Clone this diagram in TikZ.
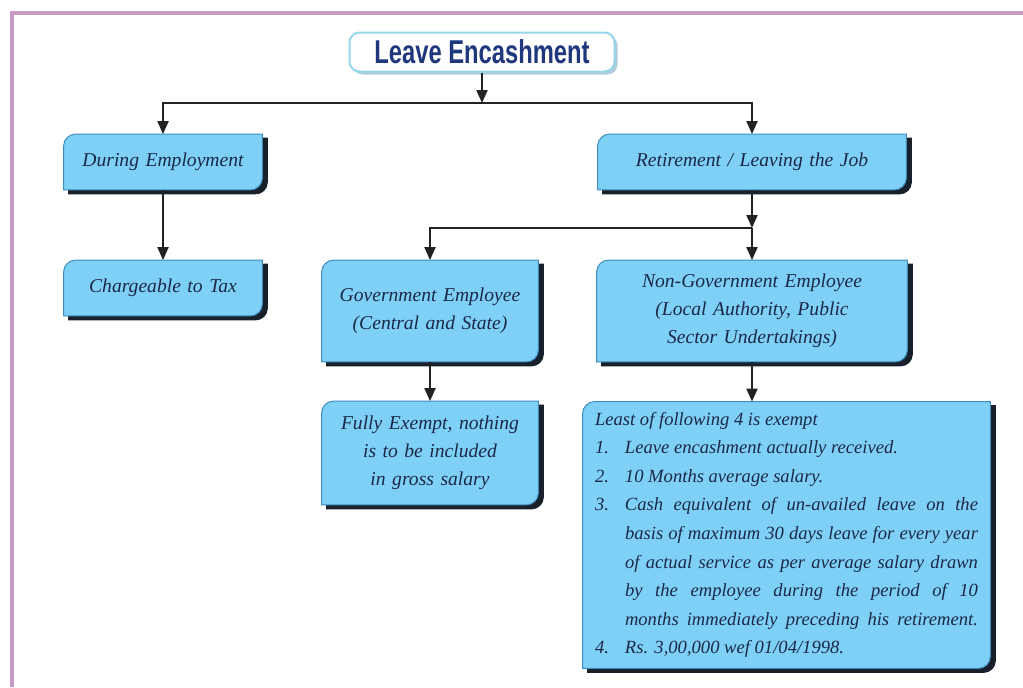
\documentclass[tikz,border=0pt]{standalone}
\usepackage{fontspec}
\setmainfont{Liberation Serif}
\newfontfamily\titlefont{Liberation Sans}[FakeStretch=0.72]
\usetikzlibrary{arrows.meta,positioning,calc,shadows,backgrounds}

% numbered line with hanging indent
\newcommand\leaveitem[2]{\par\parfillskip=0pt plus 1fil\hangindent=15pt\hangafter=1\noindent\makebox[15pt][l]{#1}#2}

\begin{document}
\begin{tikzpicture}[x=0.5pt,y=-0.5pt,
    box/.style={inner sep=0pt, align=center, text=boxtext,
        font=\itshape\fontsize{9.8}{14}\selectfont},
    arrowline/.style={draw=arrowgray, line width=1pt,
        -{Triangle[width=5.5pt,length=6.5pt]}},
  ]
    % Colours
    \definecolor{boxfill}{RGB}{126,208,246}
    \definecolor{boxedge}{RGB}{60,140,190}
    \definecolor{boxshadow}{RGB}{24,32,43}
    \definecolor{boxtext}{RGB}{28,40,72}
    \definecolor{titleblue}{RGB}{30,55,125}
    \definecolor{titleedge}{RGB}{150,214,236}
    \definecolor{titleshadow}{RGB}{175,205,218}
    \definecolor{arrowgray}{RGB}{34,34,34}
    \definecolor{framepink}{RGB}{200,155,196}

    \useasboundingbox (0,0) rectangle (1023,687);

    % Frame
    \draw[framepink, line width=2pt] (12,687) -- (12,13) -- (1023,13);

    % Title
    \node[draw=titleedge, line width=1pt, fill=white, rounded corners=5pt,
          minimum width=132.5pt, minimum height=19.5pt, inner sep=0pt,
          text=titleblue, font=\titlefont\bfseries\fontsize{16.5}{16.5}\selectfont,
          drop shadow={shadow xshift=1.5pt, shadow yshift=-1.5pt, fill=titleshadow, opacity=1}]
          (title) at (482,52) {Leave Encashment};

    % Boxes
    \node[box, text width=99pt, minimum height=27.5pt] (during) at (163,162) {During Employment};
    \node[box, text width=99pt, minimum height=27.5pt] (charge) at (163,288) {Chargeable to Tax};
    \node[box, text width=154pt, minimum height=27.5pt] (retire) at (752,162) {Retirement / Leaving the Job};
    \node[box, text width=108pt, minimum height=50.5pt] (gov) at (430,311)
        {Government Employee\\(Central and State)};
    \node[box, text width=155pt, minimum height=50.5pt] (nongov) at (752,311)
        {Non-Government Employee\\(Local Authority, Public\\Sector Undertakings)};
    \node[box, text width=108pt, minimum height=51.5pt] (fully) at (430,453)
        {Fully Exempt, nothing\\is to be included\\in gross salary};
    \node[box, text width=191.5pt, inner xsep=6pt, minimum height=133pt, align=justify,
          font=\itshape\fontsize{9.3}{14.3}\selectfont] (least) at (786.5,535) {%
        \noindent Least of following 4 is exempt
        \leaveitem{1.}{Leave encashment actually received.}
        \leaveitem{2.}{10 Months average salary.}
        \leaveitem{3.}{Cash equivalent of un-availed leave on the\linebreak
            basis of maximum 30 days leave for every year\linebreak
            of actual service as per average salary drawn\linebreak
            by the employee during the period of 10\linebreak
            months immediately preceding his retirement.\parfillskip=0pt}
        \leaveitem{4.}{Rs. 3,00,000 wef 01/04/1998.}};

    % Box shapes with shadow
    \begin{scope}[on background layer]
        \foreach \n in {during,charge,retire,gov,nongov,fully,least} {
            \foreach \dx/\dy/\col/\edge in {2.5pt/-2pt/boxshadow/boxshadow, 0pt/0pt/boxfill/boxedge}
                \filldraw[fill=\col, draw=\edge, line width=0.5pt]
                    ([shift={(\dx,\dy)}]\n.south west)
                    -- ([shift={(\dx,\dy-6pt)}]\n.north west)
                    arc[start angle=180, end angle=90, radius=6pt]
                    -- ([shift={(\dx,\dy)}]\n.north east)
                    -- ([shift={(\dx,\dy+6pt)}]\n.south east)
                    arc[start angle=0, end angle=-90, radius=6pt]
                    -- cycle;
        }
    \end{scope}

    % Connectors
    \coordinate (topjoin) at (482,103);
    \coordinate (retjoin) at (752,228);
    \draw[arrowline] (title) -- (topjoin);
    \draw[arrowline] (topjoin) -| (during);
    \draw[arrowline] (topjoin) -| (retire);
    \draw[arrowline] (during) -- (charge);
    \draw[arrowline] (retire) -- (retjoin);
    \draw[arrowline] (retjoin) -| (gov);
    \draw[arrowline] (retjoin) -- (nongov);
    \draw[arrowline] (gov) -- (fully);
    \draw[arrowline] (nongov) -- (nongov.south |- least.north);
\end{tikzpicture}
\end{document}
